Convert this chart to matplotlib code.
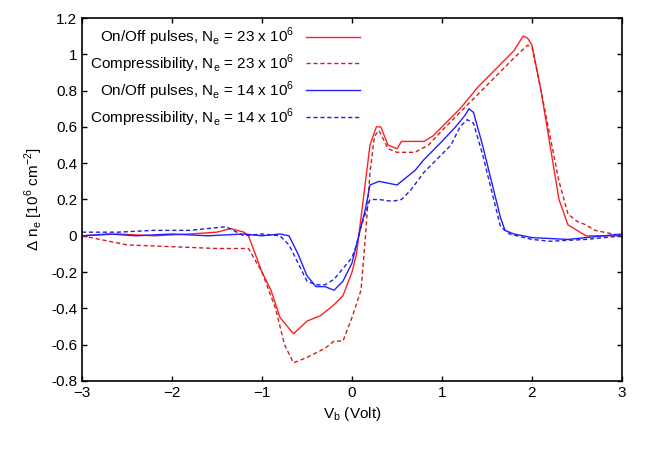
import matplotlib
matplotlib.use("Agg")
import matplotlib.pyplot as plt

red_on_x = [-3, -2.6, -2.2, -1.8, -1.5, -1.35, -1.2, -1.15, -1.0, -0.9, -0.8, -0.65, -0.5, -0.35, -0.2, -0.1, 0.0, 0.05, 0.15,
            0.2, 0.27, 0.32, 0.4, 0.5, 0.55, 0.8, 0.9, 1.0, 1.2, 1.4, 1.6, 1.8, 1.9, 1.95, 2.0, 2.1, 2.2, 2.3, 2.4,
            2.5, 2.6, 2.8, 3.0]
red_on_y = [0.0, 0.01, 0.0, 0.01, 0.02, 0.04, 0.02, 0.0, -0.2, -0.3, -0.45, -0.54, -0.47, -0.44, -0.38, -0.33, -0.2, -0.1, 0.3,
            0.5, 0.6, 0.6, 0.5, 0.48, 0.52, 0.52, 0.55, 0.6, 0.7, 0.82, 0.92, 1.02, 1.1, 1.09, 1.05, 0.8, 0.5, 0.2, 0.06,
            0.03, 0.0, 0.0, 0.0]

red_cmp_x = [-3, -2.5, -2.0, -1.5, -1.15, -1.0, -0.85, -0.75, -0.65, -0.5, -0.3, -0.2, -0.1, 0.0, 0.1, 0.15, 0.2, 0.25,
             0.3, 0.4, 0.5, 0.7, 0.85, 1.0, 1.2, 1.4, 1.6, 1.8, 1.95, 2.0, 2.1, 2.2, 2.3, 2.4, 2.5, 2.6, 2.7, 2.9, 3.0]
red_cmp_y = [0.0, -0.05, -0.06, -0.07, -0.07, -0.2, -0.4, -0.6, -0.7, -0.67, -0.62, -0.58, -0.58, -0.45, -0.3, 0.0, 0.35, 0.55,
             0.58, 0.48, 0.46, 0.46, 0.5, 0.58, 0.68, 0.78, 0.88, 0.98, 1.05, 1.04, 0.8, 0.55, 0.3, 0.12, 0.08, 0.06, 0.03, 0.01, 0.0]

blue_on_x = [-3, -2.7, -2.4, -2.0, -1.6, -1.2, -1.0, -0.8, -0.7, -0.6, -0.5, -0.4, -0.3, -0.2, -0.1, 0.0, 0.05, 0.1, 0.15,
             0.2, 0.3, 0.4, 0.5, 0.6, 0.7, 0.8, 1.0, 1.15, 1.25, 1.3, 1.35, 1.45, 1.55, 1.65, 1.7, 1.8, 2.0, 2.4, 2.8, 3.0]
blue_on_y = [0.0, 0.01, 0.0, 0.01, 0.0, 0.01, 0.0, 0.01, 0.0, -0.1, -0.22, -0.28, -0.28, -0.3, -0.25, -0.15, -0.05, 0.05, 0.15,
             0.28, 0.3, 0.29, 0.28, 0.32, 0.36, 0.42, 0.52, 0.6, 0.66, 0.7, 0.68, 0.5, 0.3, 0.1, 0.03, 0.01, -0.01, -0.02, 0.0, 0.01]

blue_cmp_x = [-3, -2.6, -2.2, -1.8, -1.4, -1.2, -1.0, -0.8, -0.7, -0.6, -0.5, -0.4, -0.3, -0.2, -0.1, 0.0, 0.05, 0.1, 0.2,
              0.3, 0.45, 0.55, 0.65, 0.8, 1.0, 1.1, 1.2, 1.28, 1.35, 1.45, 1.55, 1.65, 1.75, 2.0, 2.2, 2.6, 3.0]
blue_cmp_y = [0.02, 0.02, 0.03, 0.03, 0.05, 0.0, 0.01, 0.0, -0.05, -0.15, -0.25, -0.27, -0.27, -0.24, -0.18, -0.12, -0.05, 0.05, 0.2,
              0.2, 0.19, 0.2, 0.25, 0.35, 0.45, 0.5, 0.6, 0.64, 0.62, 0.45, 0.25, 0.05, 0.01, -0.02, -0.03, -0.02, 0.0]

plt.rcParams['font.family'] = ['Liberation Sans', 'DejaVu Sans']
plt.rcParams['mathtext.fontset'] = 'custom'
plt.rcParams['mathtext.rm'] = 'Liberation Sans'

fig, ax = plt.subplots(figsize=(6.54, 4.58), dpi=100)
fig.subplots_adjust(left=82/654, right=622/654, bottom=1-381/458, top=1-18/458)

ax.plot(red_on_x, red_on_y, color="#ff2020", lw=1, label=r"On/Off pulses, N$_\mathregular{e}$ = 23 x 10$^\mathregular{6}$")
ax.plot(red_cmp_x, red_cmp_y, color="#cc2020", lw=1, ls=(0, (3, 2)), label=r"Compressibility, N$_\mathregular{e}$ = 23 x 10$^\mathregular{6}$")
ax.plot(blue_on_x, blue_on_y, color="#2020ff", lw=1, label=r"On/Off pulses, N$_\mathregular{e}$ = 14 x 10$^\mathregular{6}$")
ax.plot(blue_cmp_x, blue_cmp_y, color="#2020dd", lw=1, ls=(0, (3, 2)), label=r"Compressibility, N$_\mathregular{e}$ = 14 x 10$^\mathregular{6}$")

ax.set_xlim(-3, 3)
ax.set_ylim(-0.8, 1.2)
ax.set_xticks([-3, -2, -1, 0, 1, 2, 3])
ax.set_yticks([-0.8, -0.6, -0.4, -0.2, 0, 0.2, 0.4, 0.6, 0.8, 1, 1.2])
ax.set_yticklabels(["-0.8", "-0.6", "-0.4", "-0.2", "0", "0.2", "0.4", "0.6", "0.8", "1", "1.2"])
ax.tick_params(direction="in", top=True, right=True, labelsize=11, width=1)
for s in ax.spines.values():
    s.set_linewidth(1.2)
ax.set_xlabel(r"V$_\mathregular{b}$ (Volt)", fontsize=11)
ax.set_ylabel(r"$\Delta$ n$_\mathregular{e}$ [10$^\mathregular{6}$ cm$^\mathregular{-2}$]", fontsize=11)
ax.legend(loc="upper left", markerfirst=False, frameon=False, fontsize=11, handlelength=3.5,
          borderaxespad=0.1, labelspacing=0.3, bbox_to_anchor=(0.0, 1.0))

fig.savefig("out.png", dpi=100)
